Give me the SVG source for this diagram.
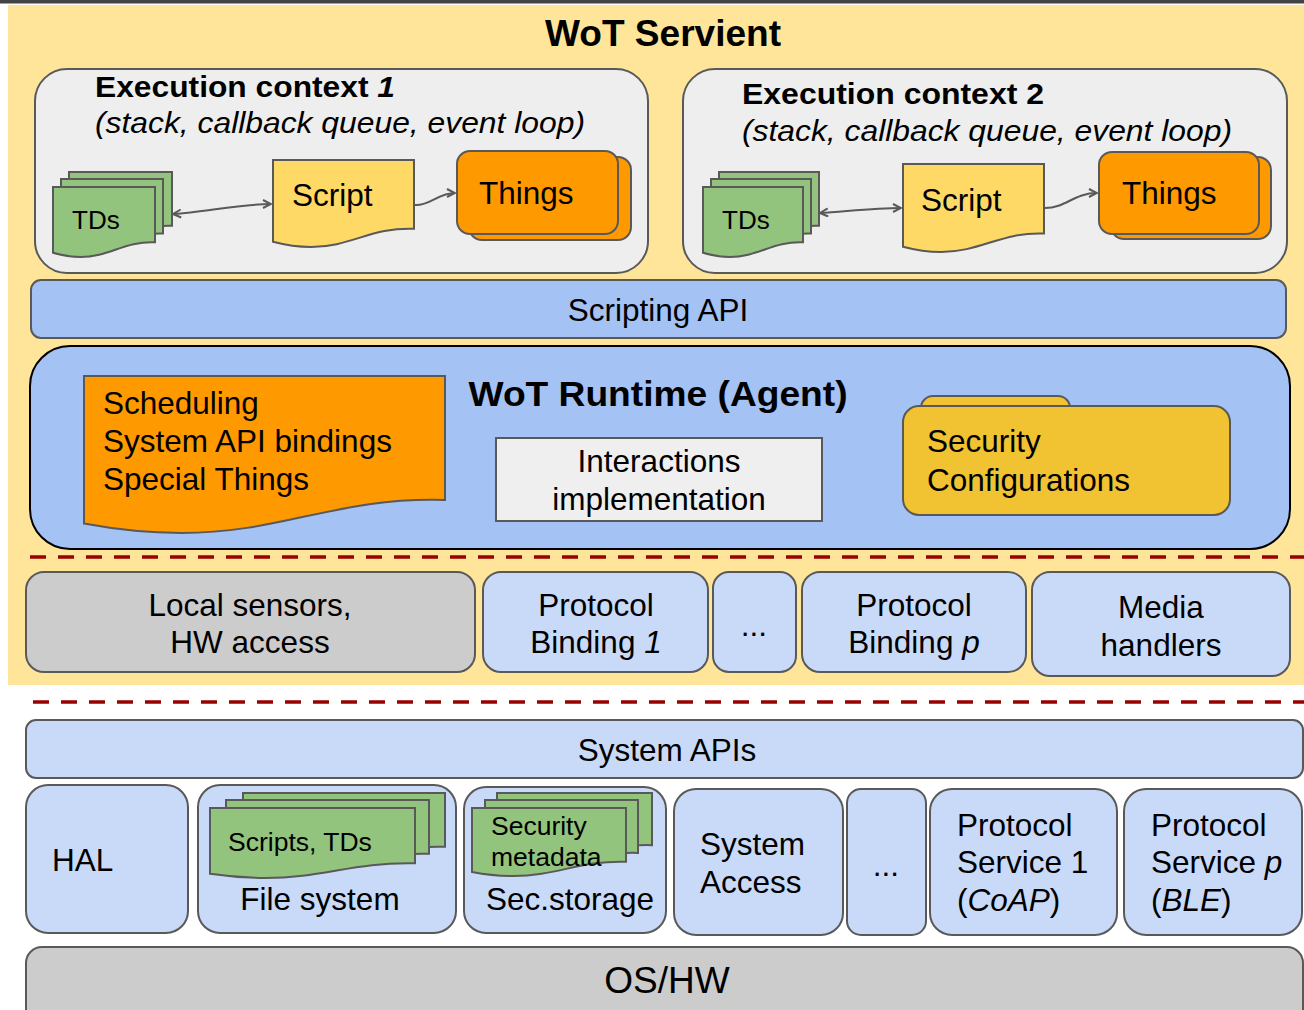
<svg xmlns="http://www.w3.org/2000/svg" xmlns:xlink="http://www.w3.org/1999/xlink" width="1304" height="1010" viewBox="0 0 1304 1010">
<style>
text{font-family:"Liberation Sans",Arial,sans-serif;font-size:31.5px;fill:#000}
.b{font-weight:bold}
.i{font-style:italic}
.s{font-size:26.5px}
.mid{text-anchor:middle}
.ln{stroke:#595959;stroke-width:2}
.bk{stroke:#000;stroke-width:2}
.grey{fill:#cccccc}
.lb{fill:#c9daf8}
.mb{fill:#a4c2f4}
.ctx{fill:#eeeeee}
.green{fill:#93c47d}
.ylw{fill:#ffd966}
.org{fill:#ff9900}
.gold{fill:#f1c232}
.wht{fill:#efefef}
.conn{fill:none;stroke:#595959;stroke-width:2}
.dash{stroke:#990000;stroke-width:3.5;stroke-dasharray:16 12}
</style>
<defs>
<path id="doc" vector-effect="non-scaling-stroke" d="M0,0 H1 V0.79 C0.7,0.77 0.55,1 0.27,1 C0.17,1 0.07,0.97 0,0.94 Z"/>
<marker id="ah" viewBox="0 0 10 10" refX="9" refY="5" markerWidth="10" markerHeight="10" markerUnits="userSpaceOnUse" orient="auto-start-reverse">
<path d="M1,1 L9,5 L1,9" fill="none" stroke="#595959" stroke-width="2"/>
</marker>
</defs>
<rect x="0" y="0" width="1304" height="1010" fill="#ffffff"/>
<rect x="0" y="0" width="1304" height="3.5" fill="#434343"/>
<rect id="servient-bg" x="8" y="5" width="1296" height="680" fill="#ffe599"/>
<text class="b mid" x="663" y="46" textLength="236" lengthAdjust="spacingAndGlyphs" style="font-size:36px">WoT Servient</text>

<g id="exec1">
<rect class="ctx ln" x="35" y="69" width="613" height="204" rx="32"/>
<text class="b" x="95" y="97" textLength="300" lengthAdjust="spacingAndGlyphs" style="font-size:29px">Execution context <tspan class="i">1</tspan></text>
<text class="i" x="95" y="133" textLength="490" lengthAdjust="spacingAndGlyphs" style="font-size:29px">(stack, callback queue, event loop)</text>
</g>
<g id="tds1">
<use href="#doc" class="green ln" transform="translate(69,172) scale(103,68)"/>
<use href="#doc" class="green ln" transform="translate(61,179) scale(102,69)"/>
<use href="#doc" class="green ln" transform="translate(53,187) scale(102,70)"/>
<text x="72" y="229" style="font-size:26px">TDs</text>
</g>
<g id="script1">
<use href="#doc" class="ylw ln" transform="translate(273,160) scale(141,87)"/>
<text x="292" y="206">Script</text>
</g>
<g id="things1">
<rect class="org ln" x="469" y="157" width="162" height="83" rx="13"/>
<rect class="org ln" x="457" y="151" width="161" height="83" rx="13"/>
<text x="479" y="204">Things</text>
</g>

<g id="exec2">
<rect class="ctx ln" x="683" y="69" width="604" height="204" rx="32"/>
<text class="b" x="742" y="104" textLength="302" lengthAdjust="spacingAndGlyphs" style="font-size:29px">Execution context 2</text>
<text class="i" x="742" y="141" textLength="490" lengthAdjust="spacingAndGlyphs" style="font-size:29px">(stack, callback queue, event loop)</text>
</g>
<g id="tds2">
<use href="#doc" class="green ln" transform="translate(719,172) scale(100,68)"/>
<use href="#doc" class="green ln" transform="translate(711,179) scale(100,69)"/>
<use href="#doc" class="green ln" transform="translate(703,187) scale(100,70)"/>
<text x="722" y="229" style="font-size:26px">TDs</text>
</g>
<g id="script2">
<use href="#doc" class="ylw ln" transform="translate(903,164) scale(141,88)"/>
<text x="921" y="211">Script</text>
</g>
<g id="things2">
<rect class="org ln" x="1111" y="157" width="160" height="82" rx="13"/>
<rect class="org ln" x="1099" y="152" width="160" height="82" rx="13"/>
<text x="1122" y="204">Things</text>
</g>

<g id="connectors">
<path class="conn" d="M173,214 C205,212 240,204 271,204" marker-start="url(#ah)" marker-end="url(#ah)"/>
<path class="conn" d="M415,205 C430,206 438,193 455,193" marker-end="url(#ah)"/>
<path class="conn" d="M820,213 C850,211 875,208 901,208" marker-start="url(#ah)" marker-end="url(#ah)"/>
<path class="conn" d="M1045,208 C1066,208 1074,193 1097,193" marker-end="url(#ah)"/>
</g>

<g id="scripting-api">
<rect class="mb ln" x="31" y="280" width="1255" height="58" rx="10"/>
<text class="mid" x="658" y="321">Scripting API</text>
</g>

<g id="runtime">
<rect class="mb bk" x="30" y="346" width="1260" height="203" rx="40"/>
<text class="b mid" x="658" y="406" textLength="379" lengthAdjust="spacingAndGlyphs" style="font-size:35px">WoT Runtime (Agent)</text>
</g>
<g id="scheduling">
<use href="#doc" class="org ln" transform="translate(84,376) scale(361,157)"/>
<text x="103" y="414">Scheduling</text>
<text x="103" y="452">System API bindings</text>
<text x="103" y="490">Special Things</text>
</g>
<g id="interactions">
<rect class="wht ln" x="496" y="438" width="326" height="83"/>
<text class="mid" x="659" y="472">Interactions</text>
<text class="mid" x="659" y="510">implementation</text>
</g>
<g id="security-config">
<rect class="gold ln" x="921" y="396" width="149" height="40" rx="12"/>
<rect class="gold ln" x="903" y="406" width="327" height="109" rx="16"/>
<text x="927" y="452">Security</text>
<text x="927" y="491">Configurations</text>
</g>

<line class="dash" x1="30" y1="557" x2="1304" y2="557"/>

<g id="local-sensors">
<rect class="grey ln" x="26" y="572" width="449" height="100" rx="18"/>
<text class="mid" x="250" y="616">Local sensors,</text>
<text class="mid" x="250" y="653">HW access</text>
</g>
<g id="binding1">
<rect class="lb ln" x="483" y="572" width="225" height="100" rx="18"/>
<text class="mid" x="596" y="616">Protocol</text>
<text class="mid" x="596" y="653">Binding <tspan class="i">1</tspan></text>
</g>
<g id="binding-dots">
<rect class="lb ln" x="713" y="572" width="83" height="100" rx="16"/>
<text class="mid" x="754" y="636">...</text>
</g>
<g id="bindingp">
<rect class="lb ln" x="802" y="572" width="224" height="100" rx="18"/>
<text class="mid" x="914" y="616">Protocol</text>
<text class="mid" x="914" y="653">Binding <tspan class="i">p</tspan></text>
</g>
<g id="media">
<rect class="lb ln" x="1032" y="572" width="258" height="104" rx="18"/>
<text class="mid" x="1161" y="618">Media</text>
<text class="mid" x="1161" y="656">handlers</text>
</g>

<line class="dash" x1="33" y1="702" x2="1304" y2="702"/>

<g id="system-apis">
<rect class="lb ln" x="26" y="720" width="1277" height="58" rx="10"/>
<text class="mid" x="667" y="761">System APIs</text>
</g>
<g id="hal">
<rect class="lb ln" x="26" y="785" width="162" height="148" rx="22"/>
<text x="52" y="871">HAL</text>
</g>
<g id="filesystem">
<rect class="lb ln" x="198" y="785" width="258" height="148" rx="22"/>
<use href="#doc" class="green ln" transform="translate(243,793) scale(202,68)"/>
<use href="#doc" class="green ln" transform="translate(226,800) scale(203,68)"/>
<use href="#doc" class="green ln" transform="translate(210,808) scale(205,70)"/>
<text class="s" x="228" y="851">Scripts, TDs</text>
<text class="mid" x="320" y="910">File system</text>
</g>
<g id="secstorage">
<rect class="lb ln" x="464" y="787" width="202" height="146" rx="22"/>
<use href="#doc" class="green ln" transform="translate(497,793) scale(155,66)"/>
<use href="#doc" class="green ln" transform="translate(485,800) scale(153,67)"/>
<use href="#doc" class="green ln" transform="translate(472,808) scale(154,68)"/>
<text class="s" x="491" y="835">Security</text>
<text class="s" x="491" y="866">metadata</text>
<text class="mid" x="570" y="910">Sec.storage</text>
</g>
<g id="system-access">
<rect class="lb ln" x="674" y="789" width="169" height="146" rx="22"/>
<text x="700" y="855">System</text>
<text x="700" y="893">Access</text>
</g>
<g id="service-dots">
<rect class="lb ln" x="847" y="789" width="79" height="146" rx="14"/>
<text class="mid" x="886" y="876">...</text>
</g>
<g id="service1">
<rect class="lb ln" x="930" y="789" width="187" height="146" rx="22"/>
<text x="957" y="836">Protocol</text>
<text x="957" y="873">Service 1</text>
<text x="957" y="911">(<tspan class="i">CoAP</tspan>)</text>
</g>
<g id="servicep">
<rect class="lb ln" x="1124" y="789" width="178" height="146" rx="22"/>
<text x="1151" y="836">Protocol</text>
<text x="1151" y="873">Service <tspan class="i">p</tspan></text>
<text x="1151" y="911">(<tspan class="i">BLE</tspan>)</text>
</g>
<g id="os-hw">
<rect class="grey ln" x="26" y="947" width="1277" height="80" rx="16"/>
<text class="mid" x="667" y="993" style="font-size:37px">OS/HW</text>
</g>
</svg>
